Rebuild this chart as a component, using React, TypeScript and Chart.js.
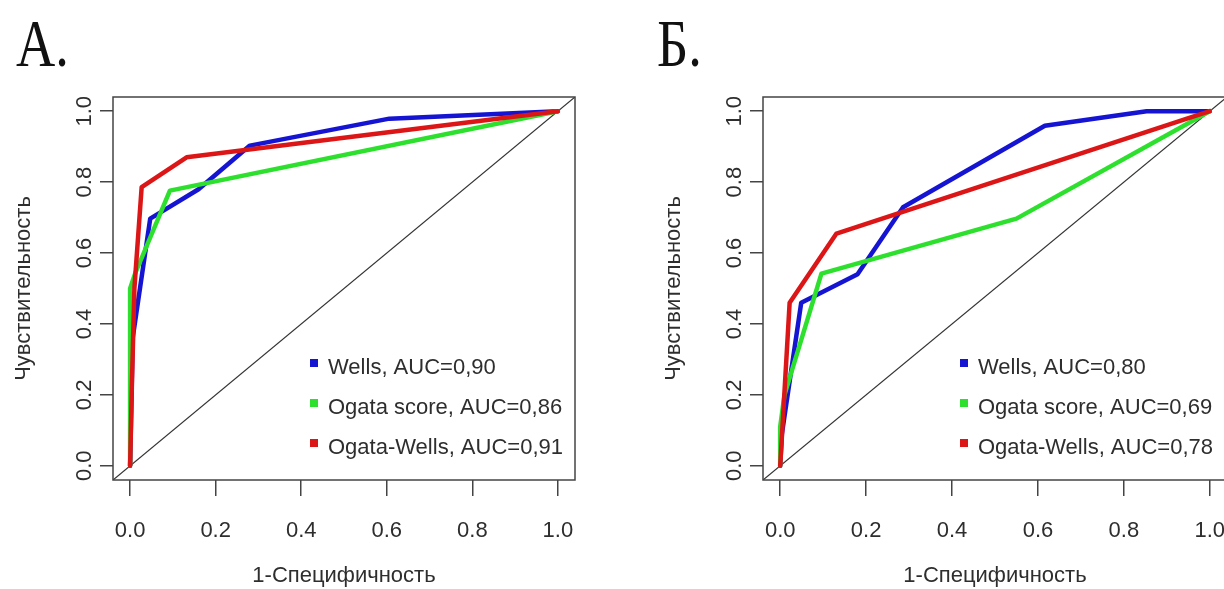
import React, { useEffect, useRef } from 'react';
import { Chart, registerables } from 'chart.js';

Chart.register(...registerables);

// ---------- data ----------
const tickValues = [0, 0.2, 0.4, 0.6, 0.8, 1.0];
const xTitle = '1-Специфичность';
const yTitle = 'Чувствительность';
const seriesNames = ['Wells', 'Ogata score', 'Ogata-Wells'];

const panelATitle = 'А.';
const panelAAuc = ['0,90', '0,86', '0,91'];
const aWellsX = [0, 0.006, 0.047, 0.16, 0.28, 0.606, 1];
const aWellsY = [0, 0.36, 0.697, 0.78, 0.903, 0.979, 1];
const aOgataX = [0, 0, 0.012, 0.093, 1];
const aOgataY = [0, 0.5, 0.543, 0.776, 1];
const aOgataWellsX = [0, 0.004, 0.01, 0.027, 0.132, 1];
const aOgataWellsY = [0, 0.22, 0.5, 0.786, 0.87, 1];

const panelBTitle = 'Б.';
const panelBAuc = ['0,80', '0,69', '0,78'];
const bWellsX = [0, 0.004, 0.049, 0.18, 0.286, 0.616, 0.853, 1];
const bWellsY = [0, 0.09, 0.46, 0.54, 0.729, 0.959, 1, 1];
const bOgataX = [0, 0, 0.01, 0.096, 0.55, 1];
const bOgataY = [0, 0.11, 0.2, 0.542, 0.697, 1];
const bOgataWellsX = [0, 0.022, 0.131, 1];
const bOgataWellsY = [0, 0.46, 0.655, 1];

const diagX = [-0.04, 1.04];
const diagY = [-0.04, 1.04];

// ---------- styles ----------
const COLORS = ['#1414d2', '#2ee02e', '#dc1616'];
const SANS = '"Liberation Sans", Arial, sans-serif';
const SERIF = '"Liberation Serif", "Times New Roman", serif';
const TEXT = '#2e2e2e';

const pts = (xs: number[], ys: number[]) => xs.map((x, i) => ({ x, y: ys[i] }));

const boxPlugin = {
  id: 'rocBox',
  afterDatasetsDraw(chart: any) {
    const { ctx, chartArea } = chart;
    ctx.save();
    ctx.strokeStyle = '#444';
    ctx.lineWidth = 1.5;
    ctx.strokeRect(chartArea.left, chartArea.top, chartArea.right - chartArea.left, chartArea.bottom - chartArea.top);
    ctx.restore();
  },
};

const legendPlugin = {
  id: 'rocLegend',
  afterDatasetsDraw(chart: any, _args: any, opts: any) {
    const { ctx, chartArea } = chart;
    ctx.save();
    ctx.font = `22px ${SANS}`;
    ctx.textBaseline = 'alphabetic';
    ctx.textAlign = 'left';
    (opts.items || []).forEach((it: any, i: number) => {
      const cy = chartArea.top + 266 + i * 40;
      ctx.fillStyle = it.color;
      ctx.fillRect(chartArea.left + 197, cy - 4, 8, 8);
      ctx.fillStyle = TEXT;
      ctx.fillText(it.text, chartArea.left + 215, cy + 11);
    });
    ctx.restore();
  },
};

const titlePlugin = {
  id: 'panelTitle',
  afterDraw(chart: any, _args: any, opts: any) {
    const { ctx } = chart;
    ctx.save();
    ctx.font = `68px ${SERIF}`;
    ctx.fillStyle = '#111';
    ctx.textBaseline = 'alphabetic';
    ctx.textAlign = 'left';
    ctx.translate(opts.x, opts.y);
    ctx.scale(0.8, 1);
    ctx.fillText(opts.text, 0, 0);
    ctx.restore();
  },
};

type PanelProps = {
  left: number;
  padRight: number;
  title: string;
  titleX: number;
  aucs: string[];
  series: { xs: number[]; ys: number[] }[];
};

function Panel({ left, padRight, title, titleX, aucs, series }: PanelProps) {
  const ref = useRef<HTMLCanvasElement | null>(null);

  useEffect(() => {
    if (!ref.current) return;
    const labels = seriesNames.map((n, i) => `${n}, AUC=${aucs[i]}`);
    const lineDatasets = series.map((s, i) => ({
      label: labels[i],
      data: pts(s.xs, s.ys),
      borderColor: COLORS[i],
      backgroundColor: COLORS[i],
      borderWidth: 4.5,
      pointRadius: 0,
      tension: 0,
      fill: false,
      borderCapStyle: 'round',
      borderJoinStyle: 'round',
      order: 2 - i,
    }));
    const chart = new Chart(ref.current, {
      type: 'line',
      data: {
        datasets: [
          {
            label: 'diag',
            data: pts(diagX, diagY),
            borderColor: '#333',
            borderWidth: 1.2,
            pointRadius: 0,
            fill: false,
            order: 5,
          },
          ...lineDatasets,
        ] as any,
      },
      options: {
        animation: false,
        responsive: false,
        devicePixelRatio: 1,
        events: [],
        layout: { padding: { top: 97, right: padRight, bottom: 0, left: 0 } },
        scales: {
          x: {
            type: 'linear',
            min: -0.04,
            max: 1.04,
            afterBuildTicks: (s: any) => {
              s.ticks = tickValues.map((v) => ({ value: v }));
            },
            afterFit: (s: any) => {
              s.height = 109;
            },
            grid: { drawOnChartArea: false, drawTicks: true, tickLength: 16, color: '#444', lineWidth: 1.5 },
            border: { display: false },
            ticks: {
              padding: 22,
              color: TEXT,
              maxRotation: 0,
              minRotation: 0,
              autoSkip: false,
              font: { family: SANS, size: 22 },
              callback: (v: any) => Number(v).toFixed(1),
            },
            title: {
              display: true,
              text: xTitle,
              color: TEXT,
              font: { family: SANS, size: 22 },
              padding: { top: 0, bottom: 0 },
            },
          },
          y: {
            type: 'linear',
            min: -0.04,
            max: 1.04,
            afterBuildTicks: (s: any) => {
              s.ticks = tickValues.map((v) => ({ value: v }));
            },
            afterFit: (s: any) => {
              s.width = 113;
            },
            grid: { drawOnChartArea: false, drawTicks: true, tickLength: 13, color: '#444', lineWidth: 1.5 },
            border: { display: false },
            ticks: {
              padding: 0,
              minRotation: 90,
              maxRotation: 90,
              crossAlign: 'center',
              autoSkip: false,
              color: TEXT,
              font: { family: SANS, size: 22 },
              callback: (v: any) => Number(v).toFixed(1),
            },
            title: {
              display: true,
              text: yTitle,
              color: TEXT,
              font: { family: SANS, size: 22 },
              padding: { top: 11, bottom: 0 },
            },
          },
        },
        plugins: {
          legend: { display: false },
          tooltip: { enabled: false },
          rocLegend: { items: labels.map((t, i) => ({ text: t, color: COLORS[i] })) },
          panelTitle: { text: title, x: titleX, y: 66 },
        } as any,
      } as any,
      plugins: [boxPlugin, legendPlugin, titlePlugin],
    });
    return () => chart.destroy();
  }, []);

  return (
    <canvas
      ref={ref}
      width={612}
      height={589}
      style={{ position: 'absolute', left, top: 0, width: 612, height: 589 }}
    />
  );
}

export default function App() {
  return (
    <div
      style={{
        position: 'fixed',
        left: 0,
        top: 0,
        width: 1224,
        height: 589,
        overflow: 'hidden',
        background: '#fff',
      }}
    >
      <Panel
        left={0}
        padRight={37}
        title={panelATitle}
        titleX={16}
        aucs={panelAAuc}
        series={[
          { xs: aWellsX, ys: aWellsY },
          { xs: aOgataX, ys: aOgataY },
          { xs: aOgataWellsX, ys: aOgataWellsY },
        ]}
      />
      <Panel
        left={650}
        padRight={35}
        title={panelBTitle}
        titleX={7}
        aucs={panelBAuc}
        series={[
          { xs: bWellsX, ys: bWellsY },
          { xs: bOgataX, ys: bOgataY },
          { xs: bOgataWellsX, ys: bOgataWellsY },
        ]}
      />
    </div>
  );
}
